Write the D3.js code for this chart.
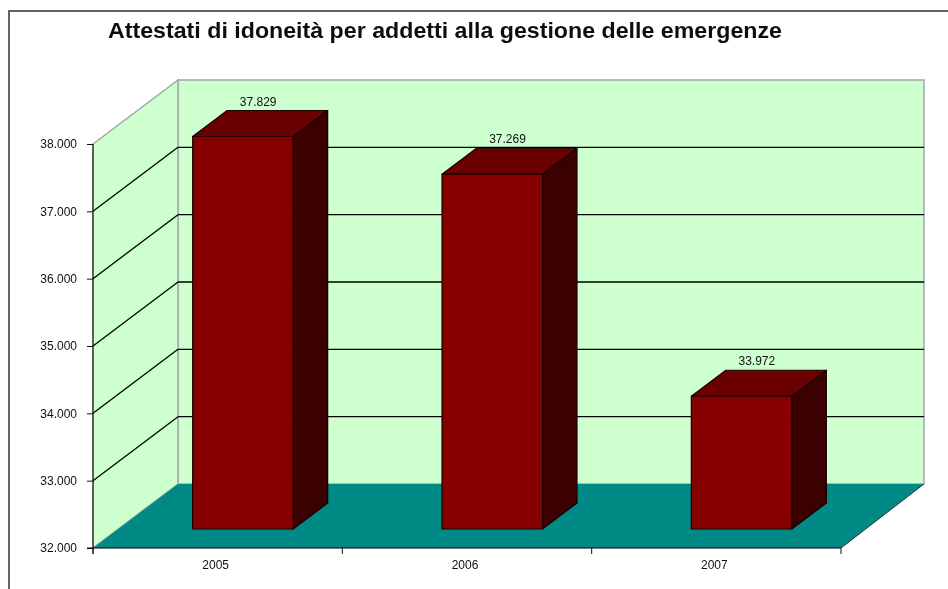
<!DOCTYPE html>
<html>
<head>
<meta charset="utf-8">
<title>Attestati di idoneità</title>
<script src="https://cdn.jsdelivr.net/npm/d3@7"></script>
<style>
  html, body { margin: 0; padding: 0; background: #fff; }
  svg { display: block; }
  text { font-family: "Liberation Sans", Arial, sans-serif; fill: #111; }
</style>
</head>
<body>
<div id="chart"></div>
<script>
var chartTitle = 'Attestati di idoneità per addetti alla gestione delle emergenze';
var years = ['2005', '2006', '2007'];
var attestati = [37829, 37269, 33972];
var yTicks = [32000, 33000, 34000, 35000, 36000, 37000, 38000];

var width = 948;
var height = 589;

// oblique offset between the front plane and the back wall
var depthX = 85;
var depthY = -64;
var barStart = 0.297;
var barDepth = 0.406;
var barShare = 0.403;

var x = d3.scaleBand().domain(years).range([93, 841]);
var y = d3.scaleLinear().domain([32000, 38000]).range([548, 144]);

var itFormat = d3.formatLocale({
  decimal: ',',
  thousands: '.',
  grouping: [3],
  currency: ['€', '']
}).format(',d');

var svg = d3.select('#chart').append('svg')
  .attr('width', width)
  .attr('height', height);

// the reference is a soft upscaled screenshot
svg.append('filter')
  .attr('id', 'soft')
  .attr('x', 0)
  .attr('y', 0)
  .attr('width', 1)
  .attr('height', 1)
  .append('feGaussianBlur')
  .attr('stdDeviation', 0.45);

var root = svg.append('g').attr('filter', 'url(#soft)');
root.append('rect')
  .attr('width', width)
  .attr('height', height)
  .attr('fill', '#fff');

_drawFrame(root);
_drawWalls(root);
_drawAxes(root);
_drawBars(root);

function _poly (points) {
  return d3.line()(points) + 'Z';
}

function _drawFrame (svg) {
  svg.append('path')
    .attr('d', d3.line()([[9, height], [9, 11], [width, 11]]))
    .attr('fill', 'none')
    .attr('stroke', '#666')
    .attr('stroke-width', 2);

  svg.append('text')
    .attr('x', 108)
    .attr('y', 38)
    .attr('font-size', 22.5)
    .attr('font-weight', 'bold')
    .attr('textLength', 674)
    .attr('lengthAdjust', 'spacingAndGlyphs')
    .text(chartTitle);
}

function _drawWalls (svg) {
  var x0 = x.range()[0];
  var x1 = x.range()[1];
  var yBase = y.range()[0];
  var yTop = y.range()[1];

  // back wall
  svg.append('path')
    .attr('d', _poly([
      [x0 + depthX, yTop + depthY], [x1 + depthX - 2, yTop + depthY],
      [x1 + depthX - 2, yBase + depthY], [x0 + depthX, yBase + depthY]
    ]))
    .attr('fill', '#ceffce')
    .attr('stroke', '#a6a6a6')
    .attr('stroke-width', 1.5);

  // side wall
  svg.append('path')
    .attr('d', _poly([
      [x0, yTop], [x0 + depthX, yTop + depthY],
      [x0 + depthX, yBase + depthY], [x0, yBase]
    ]))
    .attr('fill', '#ceffce')
    .attr('stroke', '#a6a6a6')
    .attr('stroke-width', 1.5);

  // gridlines on both walls
  var grid = yTicks.slice(1, -1);
  svg.selectAll('.gridSide')
    .data(grid)
    .enter()
    .append('line')
    .attr('class', 'gridSide')
    .attr('x1', x0)
    .attr('y1', function (d) { return y(d); })
    .attr('x2', x0 + depthX)
    .attr('y2', function (d) { return y(d) + depthY; })
    .attr('stroke', '#000')
    .attr('stroke-width', 1.3);

  svg.selectAll('.gridBack')
    .data(grid)
    .enter()
    .append('line')
    .attr('class', 'gridBack')
    .attr('x1', x0 + depthX)
    .attr('y1', function (d) { return y(d) + depthY; })
    .attr('x2', x1 + depthX - 2)
    .attr('y2', function (d) { return y(d) + depthY; })
    .attr('stroke', '#000')
    .attr('stroke-width', 1.3);

  // floor
  svg.append('path')
    .attr('d', _poly([
      [x0, yBase], [x0 + depthX, yBase + depthY],
      [x1 + depthX - 2, yBase + depthY], [x1, yBase]
    ]))
    .attr('fill', '#008a85');

  svg.append('line')
    .attr('x1', x1)
    .attr('y1', yBase)
    .attr('x2', x1 + depthX - 2)
    .attr('y2', yBase + depthY)
    .attr('stroke', '#333');
}

function _drawAxes (svg) {
  var axisLeft = d3.axisLeft(y)
    .tickValues(yTicks)
    .tickSize(6)
    .tickFormat(itFormat);

  var gy = svg.append('g')
    .attr('transform', 'translate(' + x.range()[0] + ',0)')
    .call(axisLeft);
  gy.select('.domain').attr('d', 'M0,' + y.range()[1] + 'V' + (y.range()[0] + 6));
  gy.selectAll('line').attr('stroke', '#111');
  gy.selectAll('text').attr('font-size', 12).attr('x', -16).attr('font-family', null);

  var axisBottom = d3.axisBottom(x).tickSize(0).tickPadding(12);
  var gx = svg.append('g')
    .attr('transform', 'translate(0,' + y.range()[0] + ')')
    .call(axisBottom);
  gx.select('.domain').attr('d', 'M87,0H' + x.range()[1]);
  gx.selectAll('text')
    .attr('font-size', 12)
    .attr('font-family', null)
    .attr('dx', -2);

  // the ticks on the category axis sit between the bands
  var edges = years.map(function (d) { return x(d); }).concat(x.range()[1]);
  gx.selectAll('.edge')
    .data(edges)
    .enter()
    .append('line')
    .attr('class', 'edge')
    .attr('x1', function (d) { return d; })
    .attr('x2', function (d) { return d; })
    .attr('y1', 0)
    .attr('y2', 6)
    .attr('stroke', '#111');
}

function _drawBars (svg) {
  var data = years.map(function (year, i) {
    return {year: year, value: attestati[i]};
  });
  var w = x.bandwidth() * barShare;
  var offX = depthX * barStart;
  var offY = depthY * barStart;
  var dx = depthX * barDepth;
  var dy = depthY * barDepth;

  function left (d) {
    return x(d.year) + (x.bandwidth() - w) / 2 + offX;
  }
  function base () {
    return y(y.domain()[0]) + offY;
  }
  function top (d) {
    return y(d.value) + offY;
  }

  var bars = svg.selectAll('.bar')
    .data(data)
    .enter()
    .append('g')
    .attr('class', 'bar')
    .attr('stroke', '#1a0000')
    .attr('stroke-width', 1.2)
    .attr('stroke-linejoin', 'round');

  bars.append('path')
    .attr('fill', '#3a0000')
    .attr('d', function (d) {
      var xr = left(d) + w;
      return _poly([[xr, top(d)], [xr + dx, top(d) + dy], [xr + dx, base() + dy], [xr, base()]]);
    });

  bars.append('path')
    .attr('fill', '#6b0000')
    .attr('d', function (d) {
      var xl = left(d);
      return _poly([[xl, top(d)], [xl + dx, top(d) + dy], [xl + w + dx, top(d) + dy], [xl + w, top(d)]]);
    });

  bars.append('rect')
    .attr('fill', '#860000')
    .attr('x', left)
    .attr('y', top)
    .attr('width', w)
    .attr('height', function (d) { return base() - top(d); });

  bars.append('text')
    .attr('x', function (d) { return left(d) + w / 2 + dx / 2 - 2; })
    .attr('y', function (d) { return top(d) + dy - 5; })
    .attr('text-anchor', 'middle')
    .attr('font-size', 12)
    .attr('stroke', 'none')
    .text(function (d) { return itFormat(d.value); });
}
</script>
</body>
</html>
